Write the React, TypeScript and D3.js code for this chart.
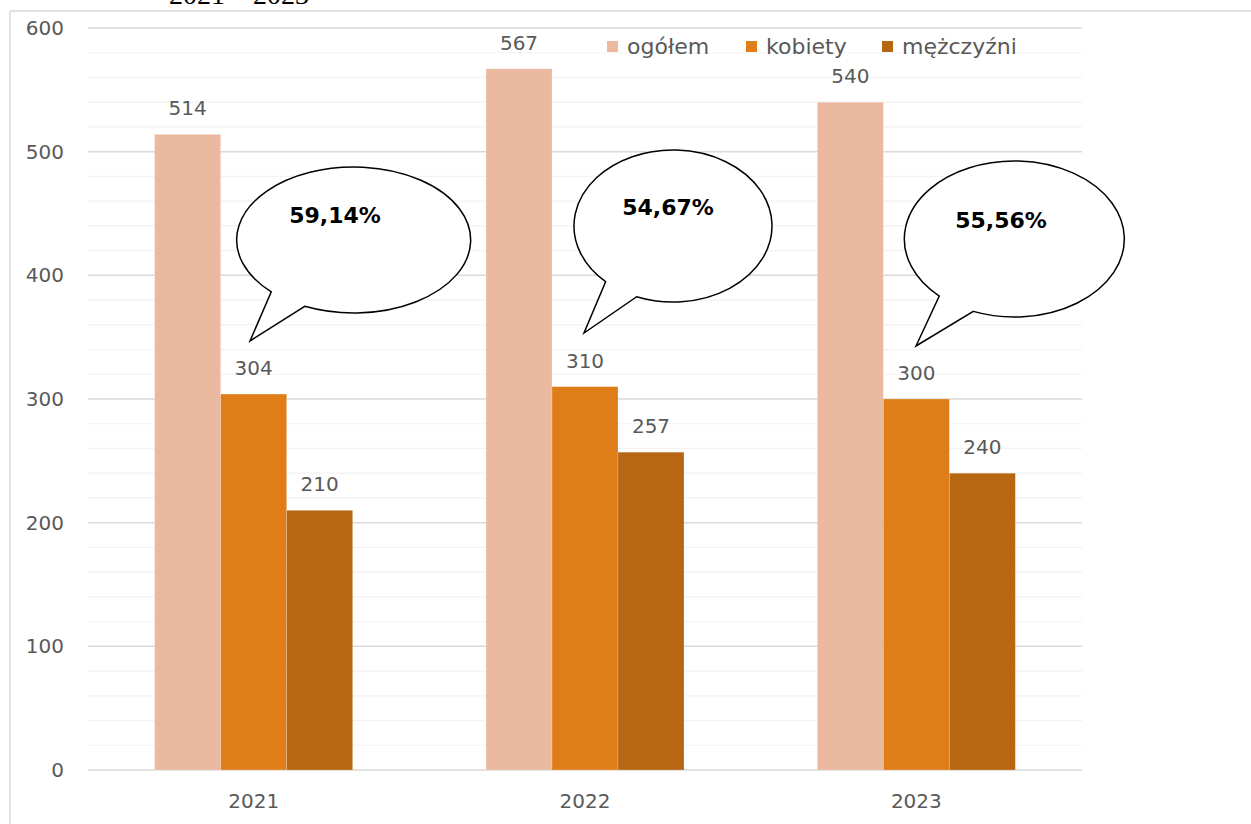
import React from "react";
import * as d3 from "d3";

const years = ["2021", "2022", "2023"];
const seriesNames = ["ogółem", "kobiety", "mężczyźni"];
const ogolem = [514, 567, 540];
const kobiety = [304, 310, 300];
const mezczyzni = [210, 257, 240];
const shares = ["59,14%", "54,67%", "55,56%"];
const yTicks = [0, 100, 200, 300, 400, 500, 600];
const colors = ["#EAB9A0", "#DF7E19", "#B76711"];

const W = 1251;
const H = 824;
const FONT = "'DejaVu Sans', sans-serif";

// callout shapes (ellipse radii, center y, tail tip and base points, text position)
const bubbles = [
  { dx: 100, cy: 240, rx: 117, ry: 73, tip: [250, 341], b1: [271, 292], b2: [305, 306], tx: 335, ty: 215 },
  { dx: 88, cy: 226, rx: 99, ry: 76, tip: [584, 333], b1: [604, 283], b2: [636, 298], tx: 668, ty: 207 },
  { dx: 98, cy: 239, rx: 110, ry: 78, tip: [916, 346], b1: [938, 297], b2: [973, 312], tx: 1001, ty: 220 },
];

export default function App() {
  const step = 994 / 3;
  const groupW = 198;
  const gx = (i: number) => 88 + step * i + (step - groupW) / 2;
  const x1 = d3.scaleBand().domain(seriesNames).range([0, groupW]);
  const y = d3.scaleLinear().domain([0, 600]).range([770, 28]);
  const minor = d3.range(0, 601, 20);
  const data = [ogolem, kobiety, mezczyzni];

  const bubblePath = (b: any, cx: number) => {
    const a1 = Math.atan2((b.b1[1] - b.cy) / b.ry, (b.b1[0] - cx) / b.rx);
    const a2 = Math.atan2((b.b2[1] - b.cy) / b.ry, (b.b2[0] - cx) / b.rx);
    const p1 = [cx + b.rx * Math.cos(a1), b.cy + b.ry * Math.sin(a1)];
    const p2 = [cx + b.rx * Math.cos(a2), b.cy + b.ry * Math.sin(a2)];
    return `M${p2[0]},${p2[1]} A${b.rx},${b.ry} 0 1 0 ${p1[0]},${p1[1]} L${b.tip[0]},${b.tip[1]} Z`;
  };

  return (
    <svg width={W} height={H} style={{ position: "absolute", left: 0, top: 0, background: "#fff" }}>
      <text x={239} y={4} textAnchor="middle" fontFamily="'Liberation Serif', serif" fontSize={28}>
        2021 – 2023
      </text>
      <rect x={0} y={8} width={W} height={H} fill="#fff" />
      <line x1={10} x2={W} y1={11} y2={11} stroke="#D9D9D9" strokeWidth={1.5} />
      <line x1={10} x2={10} y1={11} y2={H} stroke="#D9D9D9" strokeWidth={1.5} />
      {minor.map((v) => (
        <line key={"m" + v} x1={88} x2={1082} y1={y(v)} y2={y(v)} stroke={v % 100 === 0 ? "#D9D9D9" : "#F2F2F2"} strokeWidth={v % 100 === 0 ? 1.5 : 1.2} />
      ))}
      {yTicks.map((v) => (
        <text key={"t" + v} x={64} y={y(v)} dy="0.35em" textAnchor="end" fontFamily={FONT} fontSize={20} fill="#595959">
          {v}
        </text>
      ))}
      {years.map((yr, i) => (
        <g key={yr}>
          {seriesNames.map((s, j) => {
            const v = data[j][i];
            const bx = gx(i) + (x1(s) as number);
            return (
              <g key={s}>
                <rect x={bx} y={y(v)} width={x1.bandwidth()} height={y(0) - y(v)} fill={colors[j]} stroke="#fff" strokeOpacity={0.4} strokeWidth={0.5} />
                <text x={bx + x1.bandwidth() / 2} y={y(v) - 19} textAnchor="middle" fontFamily={FONT} fontSize={20} fill="#595959">
                  {v}
                </text>
              </g>
            );
          })}
          <text x={gx(i) + groupW / 2} y={801} dy="0.35em" textAnchor="middle" fontFamily={FONT} fontSize={20} fill="#595959">
            {yr}
          </text>
        </g>
      ))}
      {bubbles.map((b, i) => {
        const cx = gx(i) + groupW / 2 + b.dx;
        return (
          <g key={"b" + i}>
            <path d={bubblePath(b, cx)} fill="#fff" stroke="#000" strokeWidth={1.5} strokeLinejoin="miter" />
            <text x={b.tx} y={b.ty} dy="0.35em" textAnchor="middle" fontFamily={FONT} fontWeight="bold" fontSize={22} fill="#000">
              {shares[i]}
            </text>
          </g>
        );
      })}
      {seriesNames.map((s, j) => {
        const lx = [607, 746, 882][j];
        return (
          <g key={"l" + s}>
            <rect x={lx} y={41} width={11} height={11} fill={colors[j]} />
            <text x={lx + 20} y={46} dy="0.35em" fontFamily={FONT} fontSize={22} fill="#595959">
              {s}
            </text>
          </g>
        );
      })}
    </svg>
  );
}
